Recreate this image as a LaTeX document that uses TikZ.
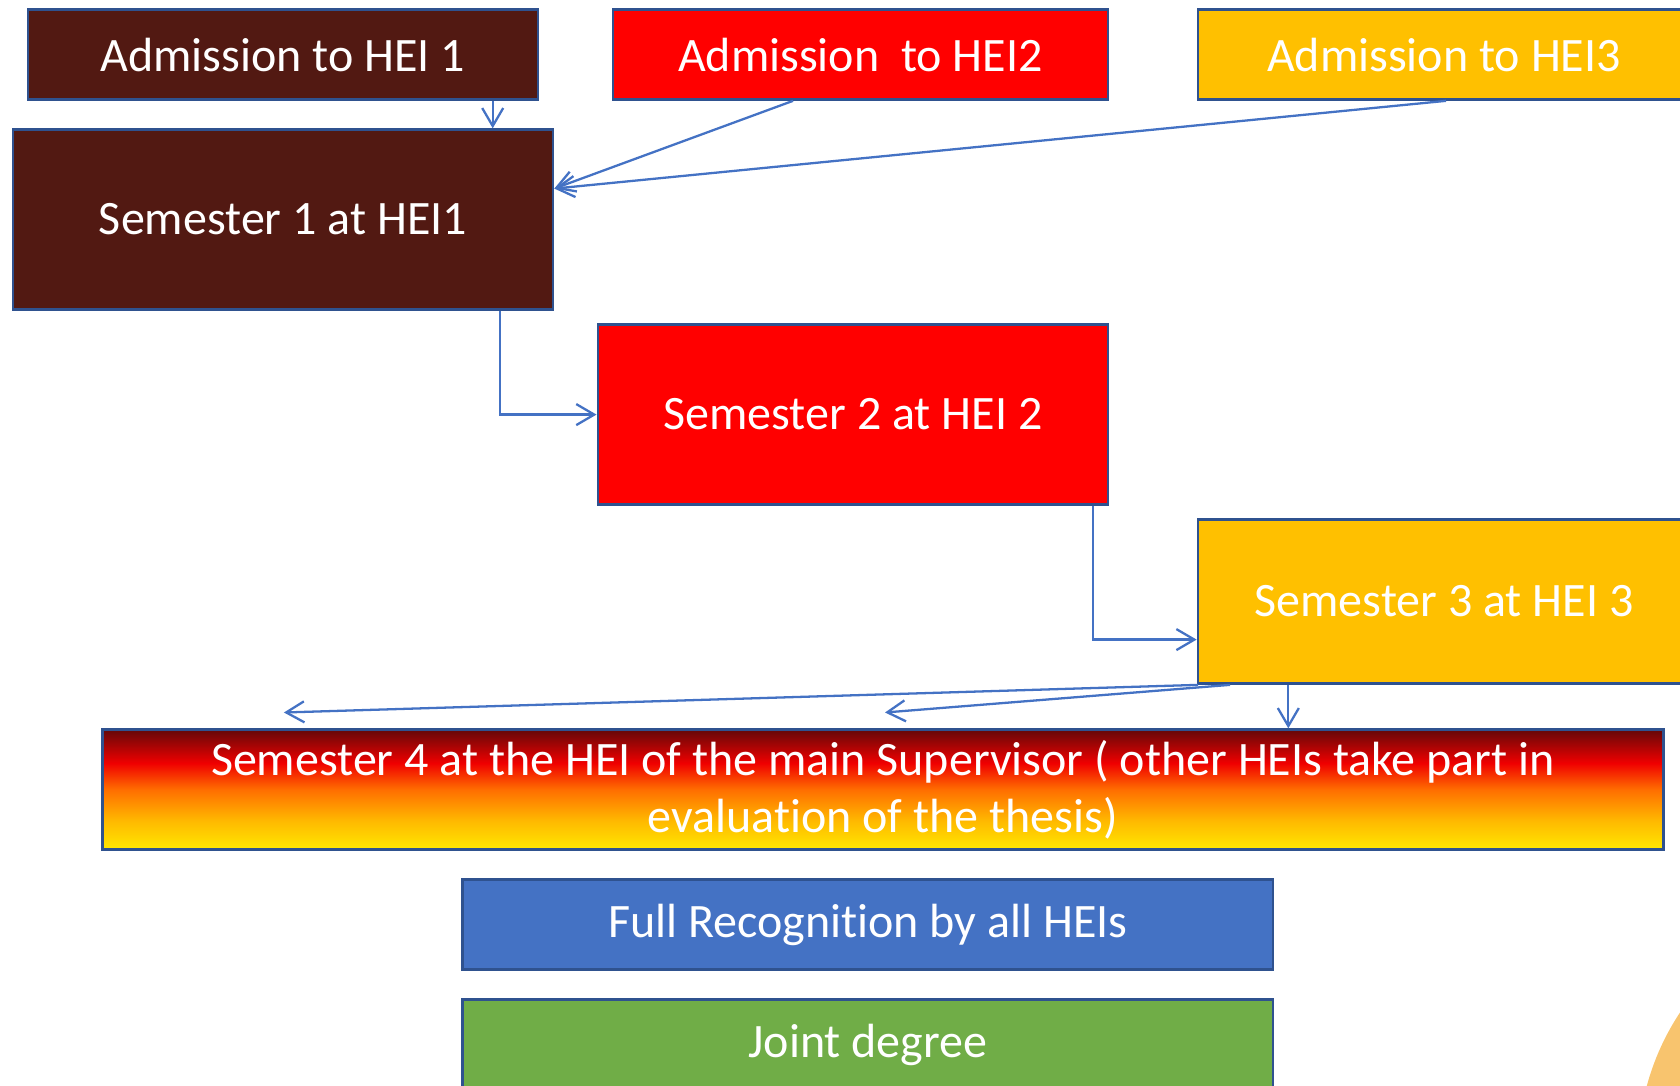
\documentclass[tikz,border=0pt]{standalone}
\usepackage{fontspec}
\setmainfont{Carlito}[Ligatures=NoCommon]
\usetikzlibrary{arrows.meta}
\definecolor{heibrown}{RGB}{82,25,18}
\definecolor{heired}{RGB}{255,0,0}
\definecolor{heigold}{RGB}{255,192,0}
\definecolor{heiblue}{RGB}{68,114,196}
\definecolor{heigreen}{RGB}{112,173,71}
\definecolor{boxline}{RGB}{47,82,143}
\definecolor{arcorange}{RGB}{248,196,110}
\definecolor{gdark}{RGB}{100,8,8}
\definecolor{gred}{RGB}{240,0,0}
\definecolor{gorange}{RGB}{255,110,0}
\definecolor{gamber}{RGB}{255,185,0}
\definecolor{gyellow}{RGB}{255,232,0}
\pgfdeclareverticalshading{semfour}{100bp}{color(0bp)=(gyellow); color(25bp)=(gyellow); color(37bp)=(gamber); color(50bp)=(gorange); color(61bp)=(gred); color(75bp)=(gdark); color(100bp)=(gdark)}
\tikzset{
  box/.style={draw=boxline, line width=0.7pt, text=white, inner sep=0pt, align=center,
    font=\fontsize{13.65}{16.2}\selectfont},
  arr/.style={draw=heiblue, line width=0.65pt, -{Straight Barb[length=0.18cm,width=0.21cm]}}
}
\begin{document}
\begin{tikzpicture}[x=0.01cm,y=-0.01cm]
\clip (0,0) rectangle (1680,1086);
\fill[arcorange] (1891,1152) circle[radius=2.528cm];
\node[box, fill=heibrown, minimum width=5.1cm, minimum height=0.9cm] (1) at (283,54.6) {Admission to HEI 1};
\node[box, fill=heired, minimum width=4.95cm, minimum height=0.9cm] (2) at (860.4,54.6) {Admission\ \ to HEI2};
\node[box, fill=heigold, minimum width=4.92cm, minimum height=0.9cm] (3) at (1444,54.6) {Admission to HEI3};
\node[box, fill=heibrown, minimum width=5.4cm, minimum height=1.8cm] (4) at (282.9,219.6) {Semester 1 at HEI1};
\node[box, fill=heired, minimum width=5.1cm, minimum height=1.8cm] (5) at (852.9,414.6) {Semester 2 at HEI 2};
\node[box, fill=heigold, minimum width=4.92cm, minimum height=1.64cm] (6) at (1444,601.6) {Semester 3 at HEI 3};
\node[box, shading=semfour, minimum width=15.6cm, minimum height=1.2cm] (7) at (882.9,789.6) {Semester 4 at the HEI of the main Supervisor ( other HEIs take part in\\evaluation of the thesis)};
\node[box, fill=heiblue, minimum width=8.1cm, minimum height=0.9cm] (8) at (867.9,924.6) {Full Recognition by all HEIs};
\node[box, fill=heigreen, minimum width=8.1cm, minimum height=0.9cm] (9) at (867.9,1044.6) {Joint degree};

\coordinate (a1) at (492.7,0);
\coordinate (a2) at (793,0);
\coordinate (a3) at (1446,0);
\coordinate (t1) at (0,188.6);
\coordinate (s1) at (500,0);
\coordinate (s2) at (1093,0);
\coordinate (t3) at (0,639.6);
\coordinate (l1) at (1198,0);
\coordinate (l2) at (1230,0);
\coordinate (l3) at (1288.3,0);
\coordinate (e1) at (283.9,712.5);
\coordinate (e2) at (885,712.5);

\path[arr] (1.south -| a1) -- (4.north -| a1);
\path[arr] (2.south -| a2) -- (4.east |- t1);
\path[arr] (3.south -| a3) -- (4.east |- t1);
\path[arr] (4.south -| s1) |- (5.west);
\path[arr] (5.south -| s2) |- (6.west |- t3);
\path[arr] (6.south -| l1) -- (e1);
\path[arr] (6.south -| l2) -- (e2);
\path[arr] (6.south -| l3) -- (7.north -| l3);
\end{tikzpicture}
\end{document}
